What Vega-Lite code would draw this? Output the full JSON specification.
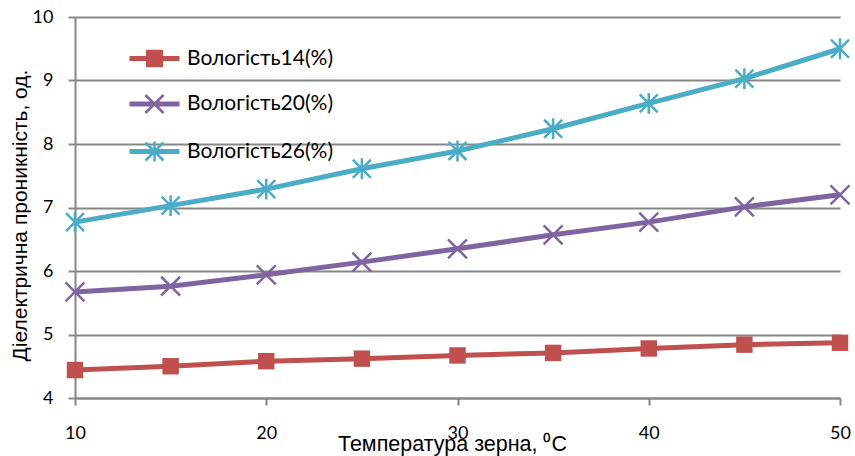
{
  "$schema": "https://vega.github.io/schema/vega-lite/v6.json",
  "width": 765,
  "height": 381,
  "autosize": {"type": "none"},
  "padding": {"left": 75, "top": 17, "right": 15, "bottom": 58},
  "background": "white",
  "config": {"view": {"stroke": null}, "font": "Lato"},
  "data": {
    "values": [
      {"t": 10, "series": "Вологість14(%)", "v": 4.44},
      {"t": 15, "series": "Вологість14(%)", "v": 4.50},
      {"t": 20, "series": "Вологість14(%)", "v": 4.58},
      {"t": 25, "series": "Вологість14(%)", "v": 4.62},
      {"t": 30, "series": "Вологість14(%)", "v": 4.67},
      {"t": 35, "series": "Вологість14(%)", "v": 4.71},
      {"t": 40, "series": "Вологість14(%)", "v": 4.78},
      {"t": 45, "series": "Вологість14(%)", "v": 4.84},
      {"t": 50, "series": "Вологість14(%)", "v": 4.87},
      {"t": 10, "series": "Вологість20(%)", "v": 5.67},
      {"t": 15, "series": "Вологість20(%)", "v": 5.76},
      {"t": 20, "series": "Вологість20(%)", "v": 5.94},
      {"t": 25, "series": "Вологість20(%)", "v": 6.14},
      {"t": 30, "series": "Вологість20(%)", "v": 6.35},
      {"t": 35, "series": "Вологість20(%)", "v": 6.57},
      {"t": 40, "series": "Вологість20(%)", "v": 6.77},
      {"t": 45, "series": "Вологість20(%)", "v": 7.01},
      {"t": 50, "series": "Вологість20(%)", "v": 7.20},
      {"t": 10, "series": "Вологість26(%)", "v": 6.77},
      {"t": 15, "series": "Вологість26(%)", "v": 7.03},
      {"t": 20, "series": "Вологість26(%)", "v": 7.29},
      {"t": 25, "series": "Вологість26(%)", "v": 7.61},
      {"t": 30, "series": "Вологість26(%)", "v": 7.89},
      {"t": 35, "series": "Вологість26(%)", "v": 8.24},
      {"t": 40, "series": "Вологість26(%)", "v": 8.64},
      {"t": 45, "series": "Вологість26(%)", "v": 9.03},
      {"t": 50, "series": "Вологість26(%)", "v": 9.50}
    ]
  },
  "encoding": {
    "x": {
      "field": "t", "type": "quantitative",
      "scale": {"domain": [10, 50], "nice": false, "zero": false},
      "axis": {
        "values": [10, 20, 30, 40, 50], "grid": false,
        "domainColor": "#868686", "domainWidth": 2,
        "tickColor": "#868686", "tickWidth": 2, "tickSize": 7,
        "labelFont": "Lato", "labelFontSize": 18, "labelColor": "#000000",
        "labelPadding": 19, "labelFlush": false,
        "title": "Температура зерна, ⁰C",
        "titleFont": "Liberation Sans", "titleFontSize": 21.5, "titleFontWeight": "normal",
        "titleColor": "#000000", "titlePadding": -9, "titleX": 377
      }
    },
    "y": {
      "field": "v", "type": "quantitative",
      "scale": {"domain": [4, 10], "nice": false, "zero": false},
      "axis": {
        "values": [4, 5, 6, 7, 8, 9, 10], "grid": true,
        "gridColor": "#868686", "gridWidth": 2,
        "domainColor": "#868686", "domainWidth": 2,
        "tickColor": "#868686", "tickWidth": 2, "tickSize": 7,
        "labelFont": "Lato", "labelFontSize": 18, "labelColor": "#000000",
        "labelPadding": 15,
        "title": "Діелектрична проникність, од.",
        "titleFont": "Liberation Sans", "titleFontSize": 21, "titleFontWeight": "normal",
        "titleColor": "#000000", "titlePadding": 2, "titleY": 198
      }
    }
  },
  "layer": [
    {
      "mark": {"type": "line", "strokeWidth": 5},
      "encoding": {
        "color": {
          "field": "series", "type": "nominal",
          "scale": {"domain": ["Вологість14(%)", "Вологість20(%)", "Вологість26(%)"], "range": ["#C0504D", "#8064A2", "#4BACC6"]},
          "legend": {
            "orient": "none", "legendX": 58, "legendY": 20, "title": null,
            "symbolSize": 1600, "symbolStrokeWidth": 2.5,
            "labelFont": "Lato", "labelFontSize": 21, "labelColor": "#000000",
            "labelOffset": 11, "rowPadding": 11.5, "padding": 0,
            "encode": {"symbols": {"update": {
              "strokeWidth": {"value": 2.5},
              "fill": {"value": "transparent"},
              "shape": {"signal": "datum.value === 'Вологість14(%)' ? 'M-1.25,-0.0625L1.25,-0.0625M-1.25,0.0625L1.25,0.0625M-0.425,-0.375L0.425,-0.375M-0.425,-0.25L0.425,-0.25M-0.425,-0.125L0.425,-0.125M-0.425,0L0.425,0M-0.425,0.125L0.425,0.125M-0.425,0.25L0.425,0.25M-0.425,0.375L0.425,0.375' : datum.value === 'Вологість20(%)' ? 'M-1.25,-0.0625L1.25,-0.0625M-1.25,0.0625L1.25,0.0625M-0.45,-0.45L0.45,0.45M-0.45,0.45L0.45,-0.45' : 'M-1.25,-0.0625L1.25,-0.0625M-1.25,0.0625L1.25,0.0625M-0.45,-0.45L0.45,0.45M-0.45,0.45L0.45,-0.45M0,-0.5L0,0.5'"}
            }}}
          }
        }
      }
    },
    {
      "transform": [{"filter": "datum.series == 'Вологість14(%)'"}],
      "mark": {"type": "point", "shape": "square", "filled": true, "size": 270, "color": "#C0504D", "opacity": 1}
    },
    {
      "transform": [{"filter": "datum.series == 'Вологість20(%)'"}],
      "mark": {"type": "point", "shape": "M-1,-1L1,1M-1,1L1,-1", "filled": false, "size": 360, "strokeWidth": 2.5, "color": "#8064A2", "opacity": 1}
    },
    {
      "transform": [{"filter": "datum.series == 'Вологість26(%)'"}],
      "mark": {"type": "point", "shape": "M-0.95,-0.95L0.95,0.95M-0.95,0.95L0.95,-0.95M0,-1.1L0,1.1", "filled": false, "size": 360, "strokeWidth": 2.5, "color": "#4BACC6", "opacity": 1}
    }
  ]
}
